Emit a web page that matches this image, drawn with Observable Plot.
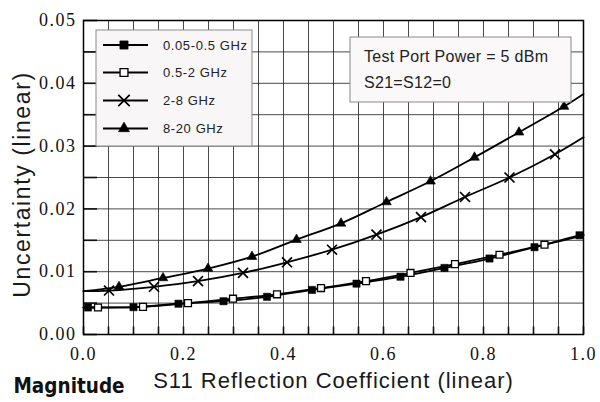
<!DOCTYPE html>
<html><head><meta charset="utf-8">
<script src="https://cdn.jsdelivr.net/npm/d3@7"></script>
<script src="https://cdn.jsdelivr.net/npm/@observablehq/plot@0.6"></script>
<style>
body{margin:0;background:#fff;}
#chart svg{display:block;}
</style>
</head><body><div id="chart"></div>
<script>
// ---- data ----
const seriesNames = ["0.05-0.5 GHz", "0.5-2 GHz", "2-8 GHz", "8-20 GHz"];

const sq1X = [0.009, 0.100, 0.190, 0.280, 0.367, 0.457, 0.546, 0.634, 0.722, 0.812, 0.902, 0.992];
const sq1Y = [0.0043, 0.00435, 0.0049, 0.0053, 0.0060, 0.0071, 0.0081, 0.0092, 0.0106, 0.0121, 0.0139, 0.0158];

const sq2X = [0.029, 0.119, 0.209, 0.299, 0.387, 0.475, 0.565, 0.654, 0.743, 0.832, 0.922];
const sq2Y = [0.0043, 0.0044, 0.0050, 0.0057, 0.0064, 0.0074, 0.0085, 0.0098, 0.0112, 0.0127, 0.0143];

const crossX = [0.051, 0.141, 0.229, 0.319, 0.407, 0.497, 0.586, 0.675, 0.763, 0.852, 0.943];
const crossY = [0.0070, 0.0076, 0.0085, 0.0098, 0.0115, 0.0135, 0.0159, 0.0187, 0.0219, 0.0250, 0.0287];

const triX = [0.071, 0.159, 0.249, 0.337, 0.426, 0.515, 0.606, 0.694, 0.782, 0.871, 0.961];
const triY = [0.0076, 0.0090, 0.0105, 0.0124, 0.0151, 0.0177, 0.0211, 0.0244, 0.0282, 0.0322, 0.0363];

// curve values at the ends of the S11 range (0 and 1)
const lineStartX = [0, 0, 0, 0];
const lineStartY = [0.0043, 0.0043, 0.0069, 0.0069];
const lineEndX = [1, 1, 1, 1];
const lineEndY = [0.0159, 0.0158, 0.0314, 0.0383];

const xTicks = [0.0, 0.2, 0.4, 0.6, 0.8, 1.0];
const yTicks = [0.00, 0.01, 0.02, 0.03, 0.04, 0.05];

const xTitle = "S11 Reflection Coefficient (linear)";
const yTitle = "Uncertainty (linear)";
const cornerLabel = "Magnitude";
const noteLines = ["Test Port Power = 5 dBm", "S21=S12=0"];

// ---- build tables ----
const markerSets = [[sq1X, sq1Y], [sq2X, sq2Y], [crossX, crossY], [triX, triY]];
const markers = markerSets.map(([xs, ys], i) => xs.map((x, j) => ({series: seriesNames[i], x, y: ys[j]})));
const lines = markers.flatMap((pts, i) => [
  {series: seriesNames[i], x: lineStartX[i], y: lineStartY[i]},
  ...pts,
  {series: seriesNames[i], x: lineEndX[i], y: lineEndY[i]}
]);

const xGrid = d3.range(0, 21).map(i => +(i * 0.05).toFixed(2));
const yGrid = d3.range(0, 11).map(i => +(i * 0.005).toFixed(3));

const symbolStyles = [
  {symbol: "square", r: 4.1, fill: "black", stroke: "black", strokeWidth: 0.5},
  {symbol: "square", r: 3.9, fill: "white", stroke: "black", strokeWidth: 1.3},
  {symbol: "times", r: 4.6, fill: "none", stroke: "black", strokeWidth: 1.7},
  {symbol: "triangle", r: 3.6, fill: "black", stroke: "black", strokeWidth: 0.6}
];

const sans = "'Liberation Sans', Arial, sans-serif";
const serif = "'Liberation Serif', 'Times New Roman', 'DejaVu Serif', serif";
const fmtY = d3.format(".2f");
const fmtX = d3.format(".1f");

const plot = Plot.plot({
  width: 600,
  height: 402,
  marginLeft: 83,
  marginRight: 17,
  marginTop: 20,
  marginBottom: 68,
  style: {background: "white", fontFamily: sans, color: "#111"},
  x: {domain: [0, 1]},
  y: {domain: [0, 0.05]},
  marks: [
    Plot.gridX(xGrid, {stroke: "#2a2a2a", strokeOpacity: 0.85, strokeWidth: 1}),
    Plot.gridY(yGrid, {stroke: "#2a2a2a", strokeOpacity: 0.85, strokeWidth: 1}),
    Plot.ruleY(yGrid, {x1: 0, x2: 0.028, stroke: "#111", strokeWidth: 1.6}),
    Plot.ruleX(xGrid, {y1: 0, y2: 0.0012, stroke: "#111", strokeWidth: 1.6}),
    Plot.axisY(yTicks, {tickSize: 0, tickPadding: 7, tickFormat: fmtY, label: null, fill: "#111", fontSize: 18}),
    Plot.axisX(xTicks, {tickSize: 0, tickPadding: 13, tickFormat: fmtX, label: null, fill: "#111", fontSize: 18}),
    Plot.frame({stroke: "black", strokeWidth: 1.5}),
    Plot.line(lines, {x: "x", y: "y", z: "series", curve: "catmull-rom", stroke: "black", strokeWidth: 1.8}),
    ...markers.map((pts, i) => Plot.dot(pts, {x: "x", y: "y", ...symbolStyles[i]})),
    Plot.text([xTitle], {frameAnchor: "bottom", dy: 53, fontSize: 22, fill: "#1a1a1a"}),
    Plot.text([yTitle], {frameAnchor: "left", textAnchor: "middle", rotate: -90, dx: -61, dy: 7, fontSize: 23, fill: "#1a1a1a"}),
    Plot.text([cornerLabel], {frameAnchor: "bottom-left", textAnchor: "start", dx: -70, dy: 58, fontSize: 20.5, fontWeight: "bold", fill: "#111"})
  ]
});

document.getElementById("chart").appendChild(plot);

const svg = d3.select(plot);
// tick labels in a serif face
const tickLabelSet = new Set([...yTicks.map(fmtY), ...xTicks.map(fmtX)]);
svg.selectAll("text").filter(function() { return tickLabelSet.has(this.textContent); })
  .style("font-family", serif).style("font-size", "18px").style("letter-spacing", "1.5px");
// titles
svg.selectAll("text").filter(function() { return this.textContent === xTitle; })
  .style("font-family", sans).style("letter-spacing", "1px");
svg.selectAll("text").filter(function() { return this.textContent === yTitle; })
  .style("font-family", sans).style("letter-spacing", "1.6px");
svg.selectAll("text").filter(function() { return this.textContent === cornerLabel; })
  .style("font-family", "'DejaVu Sans Condensed', " + sans);

// ---- legend box (inside plot, top-left) ----
const lg = svg.append("g").attr("class", "legend").attr("text-anchor", "start");
lg.append("rect").attr("x", 96).attr("y", 30).attr("width", 156).attr("height", 116)
  .attr("fill", "#f8f6f6").attr("stroke", "#8a8a8a").attr("stroke-width", 1);
const symbolMap = {square: d3.symbolSquare, times: d3.symbolTimes, triangle: d3.symbolTriangle};
const rowY = [45, 72.5, 100.5, 128.5];
seriesNames.forEach((name, i) => {
  const s = symbolStyles[i];
  const y = rowY[i];
  lg.append("line").attr("x1", 103).attr("x2", 148).attr("y1", y).attr("y2", y)
    .attr("stroke", "black").attr("stroke-width", 1.8);
  lg.append("path").attr("transform", `translate(124,${y})`)
    .attr("d", d3.symbol(symbolMap[s.symbol], Math.PI * s.r * s.r * 1.3)())
    .attr("fill", s.fill).attr("stroke", s.stroke).attr("stroke-width", s.strokeWidth);
  lg.append("text").attr("x", 163).attr("y", y + 4.5).text(name)
    .style("font-family", sans).style("font-size", "13px").style("letter-spacing", "0.6px").attr("fill", "#222");
});

// ---- annotation box ----
const nb = svg.append("g").attr("class", "note").attr("text-anchor", "start");
nb.append("rect").attr("x", 350).attr("y", 37).attr("width", 221).attr("height", 65)
  .attr("fill", "#faf8f8").attr("stroke", "#8a8a8a").attr("stroke-width", 1);
noteLines.forEach((t, i) => {
  nb.append("text").attr("x", 364).attr("y", 62 + i * 25.5).text(t)
    .style("font-family", sans).style("font-size", "16px").style("letter-spacing", "0.3px").attr("fill", "#222");
});
</script>
</body></html>
